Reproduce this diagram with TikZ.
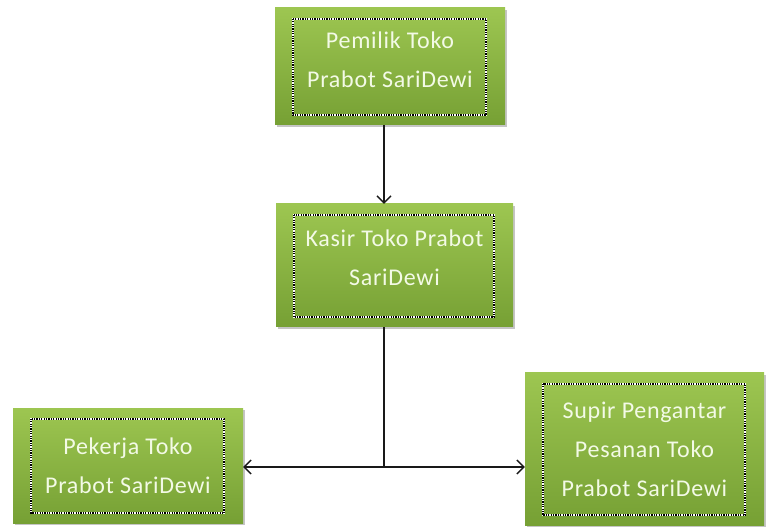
\documentclass[tikz,border=0pt]{standalone}
\usepackage{fontspec}
\setmainfont{Carlito}
\newfontfamily\boxfont[LetterSpace=3]{Carlito}
\usetikzlibrary{arrows.meta,calc,shadows}
\definecolor{gtop}{HTML}{9DC651}
\definecolor{gbot}{HTML}{76A034}
\definecolor{txt}{HTML}{F3FAE6}
\tikzset{
  box/.style={rectangle, top color=gtop, bottom color=gbot, draw=none,
    drop shadow={shadow xshift=1.5pt, shadow yshift=-2pt, fill=black!45, opacity=0.5},
    text=txt, align=center, font=\boxfont\fontsize{24}{39}\selectfont},
  conn/.style={line width=1.4pt, draw=black!90},
  tip/.style={-{Straight Barb[length=7pt,width=14pt,line width=1.3pt]}},
}
\newcommand{\innerframe}[1]{%
  \draw[white, line width=1.6pt] ($(#1.north west)+(18,11)$) rectangle ($(#1.south east)+(-19,-10)$);
  \draw[black, line width=1.6pt, dash pattern=on 1.2pt off 1.2pt] ($(#1.north west)+(18,11)$) rectangle ($(#1.south east)+(-19,-10)$);
}
\begin{document}
\begin{tikzpicture}[x=1pt,y=-1pt]
\useasboundingbox (0,0) rectangle (766,529);
\node[box, minimum width=230pt, minimum height=117pt, text depth=14pt] (top) at (390,66.5) {Pemilik Toko\\Prabot SariDewi};
\node[box, minimum width=237pt, minimum height=123pt, text depth=16pt] (mid) at (394.5,265.5) {Kasir Toko Prabot\\SariDewi};
\node[box, minimum width=230pt, minimum height=115pt] (left) at (128,465.5) {Pekerja Toko\\Prabot SariDewi};
\node[box, minimum width=239pt, minimum height=152pt] (right) at (644.5,449) {Supir Pengantar\\Pesanan Toko\\Prabot SariDewi};
\innerframe{top}
\innerframe{mid}
\innerframe{left}
\innerframe{right}
\coordinate (j) at (384,467);
\draw[conn, tip] (top.south -| j) -- (mid.north -| j);
\draw[conn] (mid.south -| j) -- (j);
\draw[conn, tip] (j) -- (left.east |- j);
\draw[conn, tip] (j) -- (right.west |- j);
\end{tikzpicture}
\end{document}
